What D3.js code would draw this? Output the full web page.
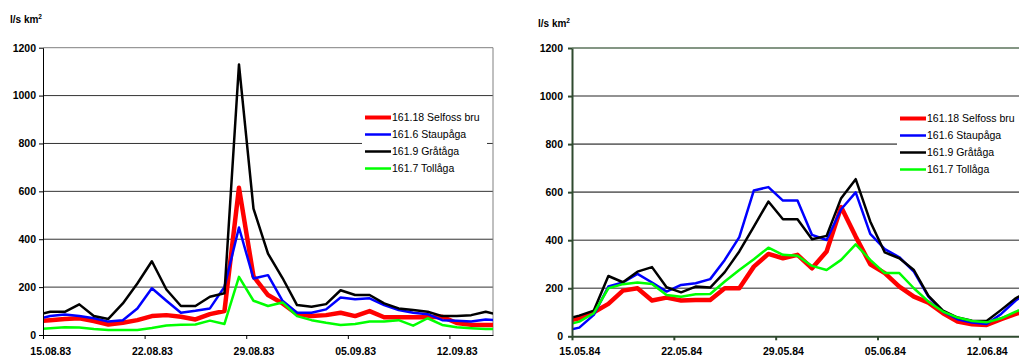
<!DOCTYPE html>
<html>
<head>
<meta charset="utf-8">
<script src="https://cdn.jsdelivr.net/npm/d3@7"></script>
<style>
  body { margin: 0; background: #fff; }
  svg { display: block; }
</style>
</head>
<body>
<script>
// Legend names, colours and widths of the four series
const seriesNames = ["161.18 Selfoss bru", "161.6 Staupåga", "161.9 Gråtåga", "161.7 Tollåga"];
const seriesColors = ["#ff0000", "#0000ff", "#000000", "#00ff00"];
const seriesWidths = [4.5, 2.5, 2.5, 2.5];

// Axis tick labels
const yTicks = [0, 200, 400, 600, 800, 1000, 1200];
const ticks83 = ["15.08.83", "22.08.83", "29.08.83", "05.09.83", "12.09.83"];
const ticks84 = ["15.05.84", "22.05.84", "29.05.84", "05.06.84", "12.06.84"];

// Daily values, 14.08.83 .. 15.09.83 (l/s km2)
const selfoss83 = [58, 62, 67, 70, 58, 44, 51, 62, 79, 83, 76, 65, 87, 100, 615, 245, 167, 132, 87, 79, 83, 93, 79, 100, 74, 74, 74, 74, 76, 50, 43, 42, 42];
const staupa83  = [65, 79, 86, 79, 70, 56, 62, 111, 195, 143, 93, 101, 111, 201, 449, 236, 250, 143, 93, 93, 107, 157, 149, 153, 125, 104, 93, 87, 62, 60, 56, 65, 60];
const grataa83  = [83, 97, 97, 128, 79, 67, 132, 215, 308, 190, 121, 121, 160, 174, 1130, 528, 340, 238, 125, 118, 129, 187, 167, 167, 132, 111, 104, 97, 79, 79, 83, 97, 83];
const tollaa83  = [25, 28, 32, 31, 25, 21, 21, 21, 29, 40, 43, 44, 60, 46, 243, 143, 121, 136, 79, 62, 51, 42, 46, 56, 56, 62, 39, 70, 42, 32, 28, 25, 25];

// Daily values, 14.05.84 .. 15.06.84 (l/s km2)
const selfoss84 = [62, 75, 100, 135, 190, 200, 149, 161, 149, 151, 151, 200, 200, 290, 343, 325, 339, 283, 353, 538, 415, 300, 263, 207, 165, 140, 96, 61, 50, 47, 71, 93, 110];
const staupa84  = [22, 36, 89, 207, 224, 260, 224, 186, 214, 221, 238, 318, 413, 607, 621, 565, 565, 422, 401, 529, 599, 426, 363, 329, 269, 165, 103, 71, 57, 51, 93, 149, 190];
const grataa84  = [70, 86, 107, 251, 225, 269, 288, 204, 183, 207, 203, 267, 353, 457, 561, 487, 487, 404, 418, 575, 654, 478, 349, 325, 276, 168, 107, 78, 65, 64, 110, 158, 195];
const tollaa84  = [45, 61, 96, 200, 217, 224, 218, 172, 165, 175, 176, 228, 276, 321, 369, 339, 335, 293, 276, 318, 383, 318, 263, 263, 200, 144, 103, 78, 64, 58, 75, 103, 125];

const FONT = "Arial, 'Liberation Sans', sans-serif";
const parseDay = d3.utcParse("%d.%m.%y");

const svg = d3.select("body").append("svg")
  .attr("width", 1019)
  .attr("height", 356);

function drawPanel(cfg) {
  const start = parseDay(cfg.ticks[0]);
  const firstDay = d3.utcDay.offset(start, -1);

  const x = d3.scaleUtc()
    .domain([start, d3.utcDay.offset(start, 31)])
    .range([cfg.left, cfg.right]);
  const y = d3.scaleLinear()
    .domain([0, 1200])
    .range([cfg.bottom, cfg.top]);
  const halfDay = (x(d3.utcDay.offset(start, 1)) - x(start)) / 2;

  const g = svg.append("g");

  // clip the lines to the plot area
  const clipId = "clip-" + cfg.id;
  svg.append("clipPath").attr("id", clipId)
    .append("rect")
    .attr("x", cfg.left)
    .attr("y", cfg.top - 10)
    .attr("width", cfg.right - cfg.left)
    .attr("height", cfg.bottom - cfg.top + 10);

  // horizontal gridlines
  g.selectAll(".grid")
    .data(yTicks.filter(v => v > 0 && v < 1200))
    .join("line")
    .attr("x1", cfg.left).attr("x2", cfg.right)
    .attr("y1", d => y(d)).attr("y2", d => y(d))
    .attr("stroke", cfg.gridColor)
    .attr("stroke-width", cfg.gridWidth);

  // plot frame (top and right)
  g.append("line")
    .attr("x1", cfg.left).attr("x2", cfg.right)
    .attr("y1", y(1200)).attr("y2", y(1200))
    .attr("stroke", cfg.frameColor).attr("stroke-width", cfg.gridWidth);
  g.append("line")
    .attr("x1", cfg.right).attr("x2", cfg.right)
    .attr("y1", y(1200)).attr("y2", y(0))
    .attr("stroke", cfg.frameColor).attr("stroke-width", 1);

  // series lines, one point per day at midday
  const line = d3.line()
    .x(d => x(d.t))
    .y(d => y(d.v));

  cfg.series.forEach((vals, i) => {
    const pts = vals.map((v, k) => ({ t: d3.utcHour.offset(d3.utcDay.offset(firstDay, k), 12), v: v }));
    g.append("path")
      .datum(pts)
      .attr("clip-path", `url(#${clipId})`)
      .attr("fill", "none")
      .attr("stroke", seriesColors[i])
      .attr("stroke-width", seriesWidths[i])
      .attr("stroke-linejoin", "round")
      .attr("d", line);
  });

  // y axis
  const yAxis = g.append("g")
    .attr("transform", `translate(${cfg.left},0)`)
    .call(d3.axisLeft(y).tickValues(yTicks).tickFormat(d3.format("d"))
      .tickSize(4).tickPadding(cfg.yPad).tickSizeOuter(0));
  yAxis.attr("font-family", FONT).attr("font-size", 10.5).attr("font-weight", "bold");
  yAxis.select(".domain").attr("stroke", cfg.axisColor).attr("stroke-width", cfg.axisWidth);
  yAxis.selectAll(".tick line").attr("stroke", cfg.axisColor).attr("stroke-width", cfg.axisWidth);
  yAxis.selectAll("text").attr("fill", "#000");

  // x axis: ticks on day boundaries, labels centred on the day
  const xAxis = g.append("g")
    .attr("transform", `translate(0,${cfg.bottom})`)
    .call(d3.axisBottom(x)
      .tickValues(cfg.ticks.map(parseDay))
      .tickFormat(d3.utcFormat("%d.%m.%y"))
      .tickSize(4)
      .tickPadding(cfg.xPad)
      .tickSizeOuter(0));
  xAxis.attr("font-family", FONT).attr("font-size", 10.5).attr("font-weight", "bold");
  xAxis.select(".domain").attr("stroke", cfg.axisColor).attr("stroke-width", cfg.axisWidth);
  xAxis.selectAll(".tick line").attr("stroke", cfg.axisColor).attr("stroke-width", cfg.axisWidth);
  xAxis.selectAll("text").attr("x", halfDay).attr("fill", "#000");

  // unit title
  const title = g.append("text")
    .attr("x", cfg.titleX).attr("y", cfg.titleY)
    .attr("font-family", FONT).attr("font-size", 10).attr("font-weight", "bold")
    .text("l/s km");
  title.append("tspan")
    .attr("font-size", 6.5).attr("dy", -4)
    .text("2");

  // legend
  const lg = g.append("g").attr("transform", `translate(${cfg.legendX},${cfg.legendY})`);
  lg.append("rect")
    .attr("x", 0).attr("y", 0)
    .attr("width", cfg.legendW).attr("height", 74)
    .attr("fill", "#fff");
  seriesNames.forEach((name, i) => {
    const ry = 11.5 + i * 17;
    lg.append("line")
      .attr("x1", 3).attr("x2", 29)
      .attr("y1", ry).attr("y2", ry)
      .attr("stroke", seriesColors[i])
      .attr("stroke-width", i === 0 ? 4 : 2.5);
    lg.append("text")
      .attr("x", 30).attr("y", ry + 3.8)
      .attr("font-family", FONT).attr("font-size", 10.5)
      .text(name);
  });
}

drawPanel({
  id: "a", ticks: ticks83,
  series: [selfoss83, staupa83, grataa83, tollaa83],
  left: 43, right: 493, top: 47.7, bottom: 335,
  gridColor: "#333", gridWidth: 1, frameColor: "#808080",
  axisColor: "#000", axisWidth: 1,
  yPad: 3, xPad: 8.5,
  titleX: 10, titleY: 23,
  legendX: 362, legendY: 106, legendW: 125
});

drawPanel({
  id: "b", ticks: ticks84,
  series: [selfoss84, staupa84, grataa84, tollaa84],
  left: 572, right: 1023, top: 48, bottom: 336.3,
  gridColor: "#6e6e6e", gridWidth: 1.6, frameColor: "#5b735b",
  axisColor: "#2f4a2f", axisWidth: 2,
  yPad: 5, xPad: 7,
  titleX: 538, titleY: 26.5,
  legendX: 897, legendY: 107, legendW: 130
});
</script>
</body>
</html>
